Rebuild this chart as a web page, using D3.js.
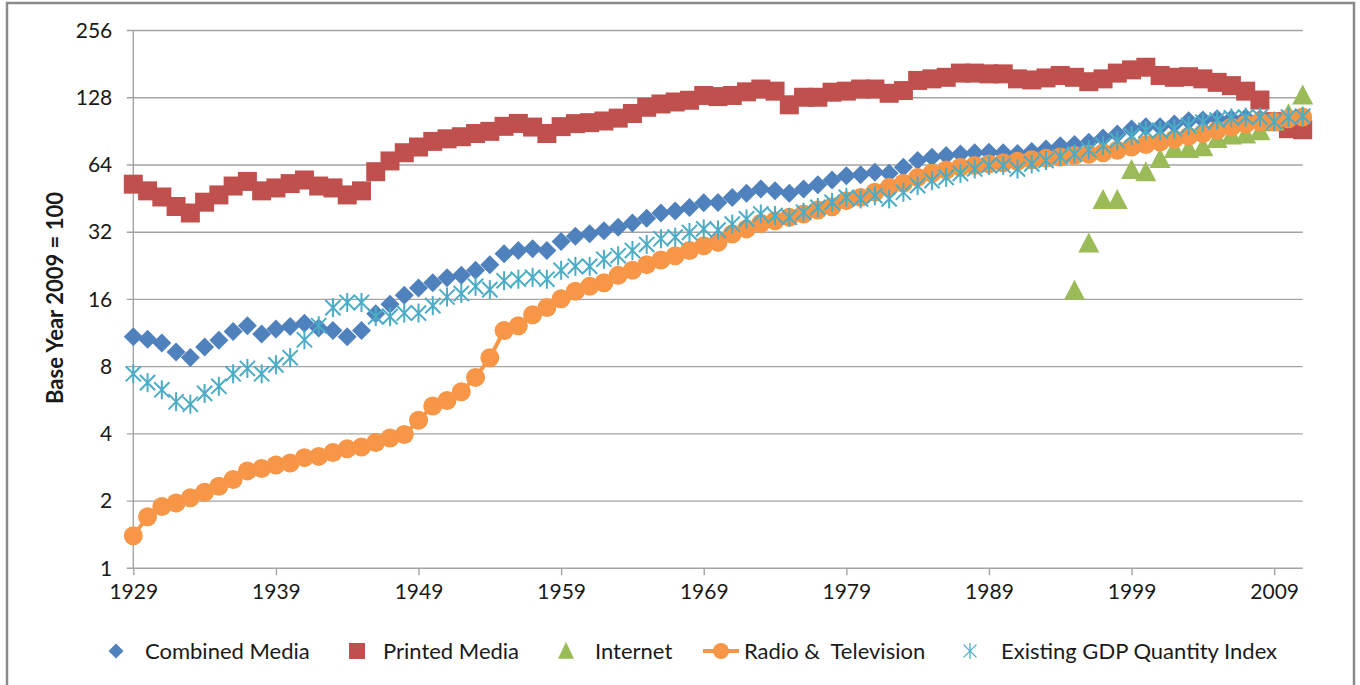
<!DOCTYPE html>
<html lang="en">
<head>
<meta charset="UTF-8">
<title>Media output vs GDP quantity index</title>
<script src="https://d3js.org/d3.v7.min.js"></script>
<style>
  body { margin: 0; background: #fff; }
  text { font-family: Lato, "Open Sans", sans-serif; fill: #1a1a1a; }
</style>
</head>
<body>
<div id="chart"></div>
<script>
  // Years on the category axis (1929 - 2011)
  const years = d3.range(1929, 2012);

  // Index values, base year 2009 = 100
  const combinedMedia = [
    10.9, 10.6, 10.2, 9.3, 8.8, 9.8, 10.5, 11.5, 12.2, 11.2, 11.8, 12.1, 12.5, 11.9, 11.6, 10.9, 11.6, 13.8, 15.2, 16.7, 18.0,
    19.0, 20.0, 20.5, 21.6, 22.9, 25.6, 26.5, 27.0, 26.5, 29.1, 30.7, 31.5, 32.5, 33.7, 35.2, 36.9, 39.0, 39.8, 41.3, 43.3,
    43.5, 45.8, 47.8, 50.0, 49.1, 47.8, 50.0, 52.2, 54.8, 57.3, 57.9, 59.3, 58.7, 62.5, 67.0, 69.3, 70.5, 71.7, 72.5, 73.0,
    72.5, 72.0, 73.5, 75.5, 78.1, 79.0, 80.9, 84.6, 88.1, 92.8, 95.0, 95.0, 97.7, 101, 101.8, 103, 103, 104, 103, 100, 102, 103
  ];
  const printedMedia = [
    52.5, 49, 46, 41.7, 39, 43.6, 47, 51.5, 54, 49, 50.5, 52.8, 54.8, 51.5, 50.5, 47, 49, 59.7, 66.7, 72.6, 77,
    81.6, 83.8, 85.6, 88.5, 90.5, 95.3, 98.2, 94.6, 88.5, 95, 98, 99, 100.7, 103.7, 108.8, 116, 120, 122.5, 124.7, 131,
    129.5, 131, 136, 140, 137, 119, 128.6, 128.6, 135.5, 137, 140, 140, 134, 137.8, 153, 155.5, 158, 165, 165, 163.7,
    163.7, 155.5, 153.8, 157, 161, 158, 151, 155.5, 165, 170.6, 175.3, 161, 158, 159, 155.5, 150, 145, 137, 125, 100, 93, 92
  ];
  const radioTelevision = [
    1.40, 1.70, 1.89, 1.96, 2.07, 2.19, 2.33, 2.50, 2.73, 2.80, 2.90, 2.96, 3.13, 3.17, 3.30, 3.43, 3.49, 3.66, 3.83, 3.97, 4.60,
    5.33, 5.64, 6.18, 7.16, 8.77, 11.6, 12.2, 13.65, 14.7, 16.1, 17.4, 18.3, 19.0, 20.5, 21.6, 22.9, 24.0, 25.1, 26.5, 27.8,
    28.8, 31.4, 33.1, 35.0, 36.0, 37.3, 38.6, 40.2, 41.6, 44.3, 45.8, 48.3, 50.8, 53.0, 56.3, 58.7, 60.8, 62.5, 63.6, 64.7,
    65.5, 66.5, 67.5, 68.5, 69.5, 70.5, 71.5, 72.5, 74.5, 77, 79, 81, 83.5, 86, 88.5, 91.5, 94.5, 97.5, 100, 100, 103, 105
  ];
  const gdpQuantity = [
    7.43, 6.78, 6.30, 5.57, 5.43, 6.07, 6.53, 7.43, 7.85, 7.43, 8.15, 8.77, 10.55, 12.2, 14.7, 15.5, 15.5, 13.4, 13.4, 13.9, 13.9,
    15.0, 16.4, 17.0, 18.3, 17.7, 19.4, 19.7, 20.1, 19.7, 21.6, 22.5, 22.5, 24.2, 25.1, 26.5, 28.2, 29.9, 30.4, 31.9, 33.1,
    32.7, 34.8, 36.7, 38.6, 38.0, 37.3, 39.3, 41.3, 43.5, 45.8, 45.1, 46.6, 45.1, 48.3, 51.7, 54.4, 56.3, 58.7, 61.4, 63.6,
    63.6, 61.4, 64.7, 67.0, 69.8, 71.7, 74.7, 78.1, 82.3, 86.6, 91.2, 91.2, 92.8, 96.0, 99.4, 101.8, 104, 104.8, 104.8, 100, 104.8, 105.8
  ];
  // Internet only starts in 1995
  const internetYears = d3.range(1995, 2012);
  const internet = [17.5, 28.5, 44.6, 44.6, 60.8, 59.3, 68, 75.5, 75.5, 76.8, 83.7, 86.6, 87.6, 90.6, 100, 108, 131];

  const yTicks = [1, 2, 4, 8, 16, 32, 64, 128, 256];
  const xTicks = [1929, 1939, 1949, 1959, 1969, 1979, 1989, 1999, 2009];
  const seriesNames = ['Combined Media', 'Printed Media', 'Internet', 'Radio &  Television', 'Existing GDP Quantity Index'];

  const colors = {
    combined: '#4F81BD',
    printed: '#C0504D',
    internet: '#9BBB59',
    radio: '#F79646',
    gdp: '#4BACC6'
  };

  const width = 1360, height = 685;
  const plot = { left: 133.3, right: 1302.7, top: 30.5, bottom: 568.3 };

  const svg = d3.select('#chart')
    .append('svg')
    .attr('width', width)
    .attr('height', height);

  // chart frame (bottom edge falls outside the picture)
  svg.append('rect')
    .attr('x', 7).attr('y', 3)
    .attr('width', 1347).attr('height', 700)
    .attr('fill', '#fff')
    .attr('stroke', '#8a8a8a')
    .attr('stroke-width', 2.5);

  const x = d3.scaleLinear().domain([1929, 2011]).range([plot.left, plot.right]);
  const y = d3.scaleLog().base(2).domain([1, 256]).range([plot.bottom, plot.top]);

  // horizontal gridlines (they stick out a little to the left like tick marks)
  svg.append('g')
    .selectAll('line')
    .data(yTicks)
    .enter().append('line')
    .attr('x1', plot.left - 6.5)
    .attr('x2', plot.right)
    .attr('y1', d => y(d))
    .attr('y2', d => y(d))
    .attr('stroke', '#a3a3a3')
    .attr('stroke-width', 1.4);

  // vertical axis line
  svg.append('line')
    .attr('x1', plot.left).attr('x2', plot.left)
    .attr('y1', plot.top).attr('y2', plot.bottom)
    .attr('stroke', '#a3a3a3')
    .attr('stroke-width', 1.4);

  // y axis labels
  const yAxis = svg.append('g')
    .attr('transform', `translate(${plot.left},0)`)
    .call(d3.axisLeft(y).tickValues(yTicks).tickFormat(d3.format('d')).tickSize(0).tickPadding(21));
  yAxis.select('.domain').remove();
  yAxis.selectAll('text').style('font-size', '21px').style('font-family', 'Lato, sans-serif').attr('fill', '#1a1a1a');

  // x axis
  const xAxis = svg.append('g')
    .attr('transform', `translate(0,${plot.bottom})`)
    .call(d3.axisBottom(x).tickValues(xTicks).tickFormat(d3.format('d')).tickSize(7).tickPadding(9));
  xAxis.select('.domain').remove();
  xAxis.selectAll('line').attr('stroke', '#a3a3a3').attr('stroke-width', 1.4);
  xAxis.selectAll('text').style('font-size', '21px').style('font-family', 'Lato, sans-serif').attr('fill', '#1a1a1a');

  // y axis title
  svg.append('text')
    .attr('transform', 'translate(55,298) rotate(-90)')
    .attr('text-anchor', 'middle')
    .attr('dy', '0.35em')
    .style('font-size', '22px')
    .style('font-weight', 'bold')
    .text('Base Year 2009 = 100');

  // marker shapes
  const diamondPath = (w, h) => `M0,${-h} L${w},0 L0,${h} L${-w},0 Z`;
  const trianglePath = (w, h) => `M0,${-h * 0.55} L${w / 2},${h * 0.45} L${-w / 2},${h * 0.45} Z`;

  function drawAsterisk(g, r, color, sw) {
    const d = r * 0.8;
    g.append('line').attr('x1', 0).attr('y1', -r).attr('x2', 0).attr('y2', r);
    g.append('line').attr('x1', -d).attr('y1', -d).attr('x2', d).attr('y2', d);
    g.append('line').attr('x1', -d).attr('y1', d).attr('x2', d).attr('y2', -d);
    g.selectAll('line').attr('stroke', color).attr('stroke-width', sw);
  }

  const zip = (xs, vs) => xs.map((yr, i) => ({ year: yr, value: vs[i] }));

  // Combined Media (diamonds)
  svg.append('g').selectAll('path')
    .data(zip(years, combinedMedia))
    .enter().append('path')
    .attr('transform', d => `translate(${x(d.year)},${y(d.value)})`)
    .attr('d', diamondPath(9.5, 9.5))
    .attr('fill', colors.combined);

  // Printed Media (squares)
  svg.append('g').selectAll('rect')
    .data(zip(years, printedMedia))
    .enter().append('rect')
    .attr('x', d => x(d.year) - 9.5)
    .attr('y', d => y(d.value) - 9.5)
    .attr('width', 19).attr('height', 19)
    .attr('fill', colors.printed);

  // Internet (triangles)
  svg.append('g').selectAll('path')
    .data(zip(internetYears, internet))
    .enter().append('path')
    .attr('transform', d => `translate(${x(d.year)},${y(d.value)})`)
    .attr('d', trianglePath(21, 20))
    .attr('fill', colors.internet);

  // Radio & Television (line with circles)
  const radioData = zip(years, radioTelevision);
  svg.append('path')
    .datum(radioData)
    .attr('fill', 'none')
    .attr('stroke', colors.radio)
    .attr('stroke-width', 4)
    .attr('d', d3.line().x(d => x(d.year)).y(d => y(d.value)));
  svg.append('g').selectAll('circle')
    .data(radioData)
    .enter().append('circle')
    .attr('cx', d => x(d.year))
    .attr('cy', d => y(d.value))
    .attr('r', 9.5)
    .attr('fill', colors.radio);

  // Existing GDP Quantity Index (asterisks)
  svg.append('g').selectAll('g')
    .data(zip(years, gdpQuantity))
    .enter().append('g')
    .attr('transform', d => `translate(${x(d.year)},${y(d.value)})`)
    .each(function () { drawAsterisk(d3.select(this), 9.5, colors.gdp, 2); });

  // legend
  const legendY = 651;
  const legendX = [116, 357, 566, 721, 970];
  const legendTextX = [145, 383, 595, 744, 1001];
  const legend = svg.append('g');

  legend.append('path')
    .attr('transform', `translate(${legendX[0]},${legendY})`)
    .attr('d', diamondPath(7.5, 7.5))
    .attr('fill', colors.combined);
  legend.append('rect')
    .attr('x', legendX[1] - 8).attr('y', legendY - 8)
    .attr('width', 16).attr('height', 16)
    .attr('fill', colors.printed);
  legend.append('path')
    .attr('transform', `translate(${legendX[2]},${legendY})`)
    .attr('d', trianglePath(16, 17))
    .attr('fill', colors.internet);
  legend.append('line')
    .attr('x1', legendX[3] - 18).attr('x2', legendX[3] + 18)
    .attr('y1', legendY).attr('y2', legendY)
    .attr('stroke', colors.radio).attr('stroke-width', 4);
  legend.append('circle')
    .attr('cx', legendX[3]).attr('cy', legendY)
    .attr('r', 8)
    .attr('fill', colors.radio);
  drawAsterisk(legend.append('g').attr('transform', `translate(${legendX[4]},${legendY})`), 8, colors.gdp, 1.3);

  legend.selectAll('text')
    .data(seriesNames)
    .enter().append('text')
    .attr('x', (d, i) => legendTextX[i])
    .attr('y', legendY)
    .attr('dy', '0.36em')
    .style('font-size', '22px')
    .style('white-space', 'pre')
    .text(d => d);
</script>
</body>
</html>
